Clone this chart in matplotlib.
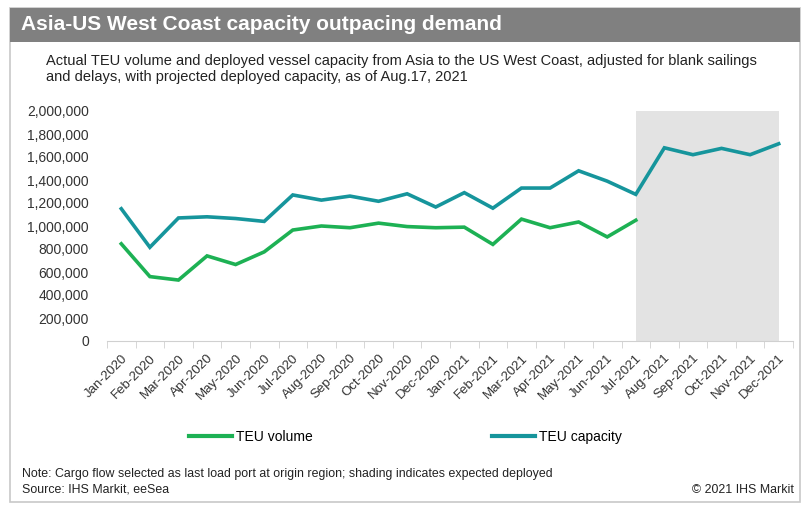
import numpy as np
import matplotlib.pyplot as plt
from matplotlib.patches import Rectangle
from matplotlib.lines import Line2D
from matplotlib.ticker import FuncFormatter

plt.rcParams["font.family"] = ["Liberation Sans", "DejaVu Sans"]

MONTHS = ["Jan-2020", "Feb-2020", "Mar-2020", "Apr-2020", "May-2020", "Jun-2020",
          "Jul-2020", "Aug-2020", "Sep-2020", "Oct-2020", "Nov-2020", "Dec-2020",
          "Jan-2021", "Feb-2021", "Mar-2021", "Apr-2021", "May-2021", "Jun-2021",
          "Jul-2021", "Aug-2021", "Sep-2021", "Oct-2021", "Nov-2021", "Dec-2021"]

TEU_VOLUME = [845000, 560000, 530000, 740000, 665000, 775000,
              965000, 1000000, 985000, 1025000, 995000, 985000,
              990000, 840000, 1060000, 985000, 1035000, 905000,
              1050000]

TEU_CAPACITY = [1150000, 815000, 1070000, 1080000, 1065000, 1040000,
                1270000, 1225000, 1260000, 1215000, 1280000, 1165000,
                1290000, 1155000, 1330000, 1330000, 1480000, 1390000,
                1275000, 1680000, 1620000, 1675000, 1620000, 1715000]

SHADE_START = "Jul-2021"
SHADE_END = "Dec-2021"

GREEN = "#1db154"
TEAL = "#16959c"

W, H = 809, 505
fig = plt.figure(figsize=(W / 100, H / 100), dpi=100)

def fx(px):
    return px / W

def fy(py):
    return 1 - py / H

# frame and title bar (behind the axes)
fig.patches.append(Rectangle((fx(10), fy(502)), fx(790), 494 / H, transform=fig.transFigure,
                             facecolor="white", edgecolor="#c8c8c8", lw=1.2, zorder=-2))
fig.patches.append(Rectangle((fx(10), fy(42)), fx(790), 34 / H, transform=fig.transFigure,
                             facecolor="#808080", edgecolor="none", zorder=-1))
fig.text(fx(21), fy(25), "Asia-US West Coast capacity outpacing demand", color="white",
         fontsize=15, fontweight="bold", va="center", ha="left")
fig.text(fx(46), fy(69), "Actual TEU volume and deployed vessel capacity from Asia to the US West Coast, adjusted for blank sailings\n"
         "and delays, with projected deployed capacity, as of Aug.17, 2021",
         fontsize=10.5, va="center", ha="left", linespacing=1.2, color="#222222")

ax = fig.add_axes([fx(107), fy(341), fx(793) - fx(107), (341 - 111) / H])
x = np.arange(len(MONTHS))

i0, i1 = MONTHS.index(SHADE_START), MONTHS.index(SHADE_END)
ax.add_patch(Rectangle((i0, 0), i1 - i0, 2000000, facecolor="#e3e3e3", edgecolor="none", zorder=0))

ax.plot(x[:len(TEU_VOLUME)], TEU_VOLUME, color=GREEN, lw=2.6, solid_joinstyle="miter", zorder=3)
ax.plot(x, TEU_CAPACITY, color=TEAL, lw=2.6, solid_joinstyle="miter", zorder=3)

ax.set_xlim(-0.5, len(MONTHS) - 0.5)
ax.set_ylim(0, 2000000)
ax.set_yticks(np.arange(0, 2000001, 200000))
ax.yaxis.set_major_formatter(FuncFormatter(lambda v, p: f"{int(v):,}"))
ax.set_xticks(x)
ax.set_xticklabels(MONTHS, rotation=45, ha="right", rotation_mode="anchor", fontsize=9.5, color="#333333")
ax.set_xticks(np.arange(-0.5, len(MONTHS)), minor=True)
ax.tick_params(axis="x", which="major", length=0, pad=8)
ax.tick_params(axis="x", which="minor", length=5, color="#d0d0d0")
ax.tick_params(axis="y", length=0, labelsize=10, labelcolor="#333333", pad=13)
for s in ["top", "right", "left"]:
    ax.spines[s].set_visible(False)
ax.spines["bottom"].set_color("#d0d0d0")
ax.set_facecolor("none")

# legend
handles = [Line2D([0], [0], color=GREEN, lw=3), Line2D([0], [0], color=TEAL, lw=3)]
fig.legend(handles, ["TEU volume", "TEU capacity"], loc="center left", bbox_to_anchor=(fx(176), fy(437)),
           ncol=2, frameon=False, fontsize=10, handlelength=3.1, handletextpad=0.3, columnspacing=12.9)

fig.text(fx(22), fy(474), "Note: Cargo flow selected as last load port at origin region; shading indicates expected deployed",
         fontsize=8.9, va="center", ha="left", color="#222222")
fig.text(fx(22), fy(490), "Source: IHS Markit, eeSea", fontsize=8.9, va="center", ha="left", color="#222222")
fig.text(fx(794), fy(490), "\u00a9 2021 IHS Markit", fontsize=8.9, va="center", ha="right", color="#222222")

fig.savefig("out.png", dpi=100)
